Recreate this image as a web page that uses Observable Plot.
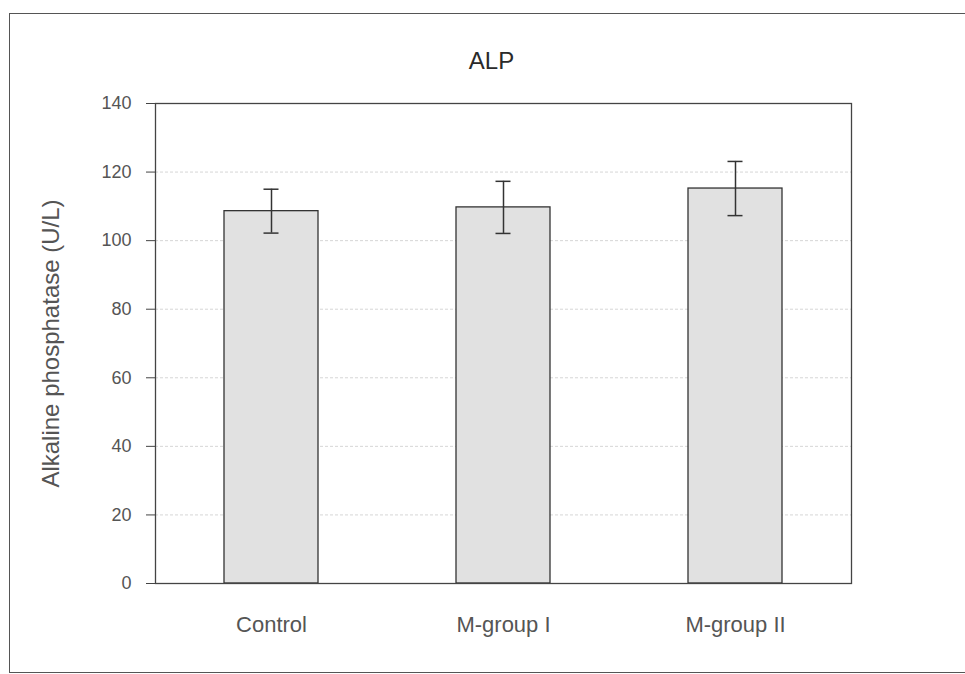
<!DOCTYPE html>
<html>
<head>
<meta charset="utf-8">
<script src="https://cdn.jsdelivr.net/npm/d3@7"></script>
<script src="https://cdn.jsdelivr.net/npm/@observablehq/plot@0.6"></script>
<style>
  html, body { margin: 0; padding: 0; background: #fff; }
  #wrap { position: relative; width: 965px; height: 674px; overflow: hidden; }
  #border {
    position: absolute; left: 9px; top: 13px; width: 1000px; height: 658px;
    border: 1.3px solid #555; pointer-events: none;
  }
</style>
</head>
<body>
<div id="wrap"><div id="border"></div></div>
<script>
// ALP by group: mean and error (U/L)
const groups = ["Control", "M-group I", "M-group II"];
const means = [108.6, 109.7, 115.2];
const errors = [6.4, 7.6, 7.9];
const yTicks = [0, 20, 40, 60, 80, 100, 120, 140];
const gridTicks = [20, 40, 60, 80, 100, 120];
const title = "ALP";
const yLabel = "Alkaline phosphatase (U/L)";

const rows = groups.map((g, i) => ({group: g, mean: means[i], err: errors[i]}));

const font = "'Liberation Sans', Arial, Helvetica, sans-serif";
const ink = "#444";

const chart = Plot.plot({
  width: 965,
  height: 674,
  marginLeft: 155,
  marginRight: 114,
  marginTop: 103,
  marginBottom: 91,
  style: {fontFamily: font, color: ink, background: "transparent", overflow: "visible"},
  x: {domain: groups, paddingInner: 0.595, paddingOuter: 0.2975},
  y: {domain: [0, 140]},
  marks: [
    Plot.ruleY(gridTicks, {stroke: "#d6d6d6", strokeDasharray: "3,2", strokeWidth: 1}),
    Plot.barY(rows, {x: "group", y: "mean", fill: "#e1e1e1", stroke: "#333", strokeWidth: 1.3}),
    Plot.ruleX(rows, {x: "group", y1: d => d.mean - d.err, y2: d => d.mean + d.err, stroke: "#333", strokeWidth: 1.5}),
    Plot.tickY(rows, {x: "group", y: d => d.mean + d.err, stroke: "#333", strokeWidth: 1.5, insetLeft: 39.5, insetRight: 39.5}),
    Plot.tickY(rows, {x: "group", y: d => d.mean - d.err, stroke: "#333", strokeWidth: 1.5, insetLeft: 39.5, insetRight: 39.5}),
    Plot.frame({stroke: "#444", strokeWidth: 1.3}),
    Plot.axisY(yTicks, {tickSize: 9, tickPadding: 15, label: null, fontSize: 18, fill: "#555", stroke: "#444"}),
    Plot.axisX({tickSize: 0, tickPadding: 33, label: null, fontSize: 22, fill: "#555"}),
    Plot.text([title], {frameAnchor: "top", lineAnchor: "middle", dy: -42, dx: -12, fontSize: 24, fill: "#2a2a2a"}),
    Plot.text([yLabel], {frameAnchor: "left", textAnchor: "middle", rotate: -90, dx: -104, fontSize: 24, fill: "#555"})
  ]
});

document.getElementById("wrap").appendChild(chart);
chart.style.position = "absolute";
chart.style.left = "0";
chart.style.top = "0";
</script>
</body>
</html>
